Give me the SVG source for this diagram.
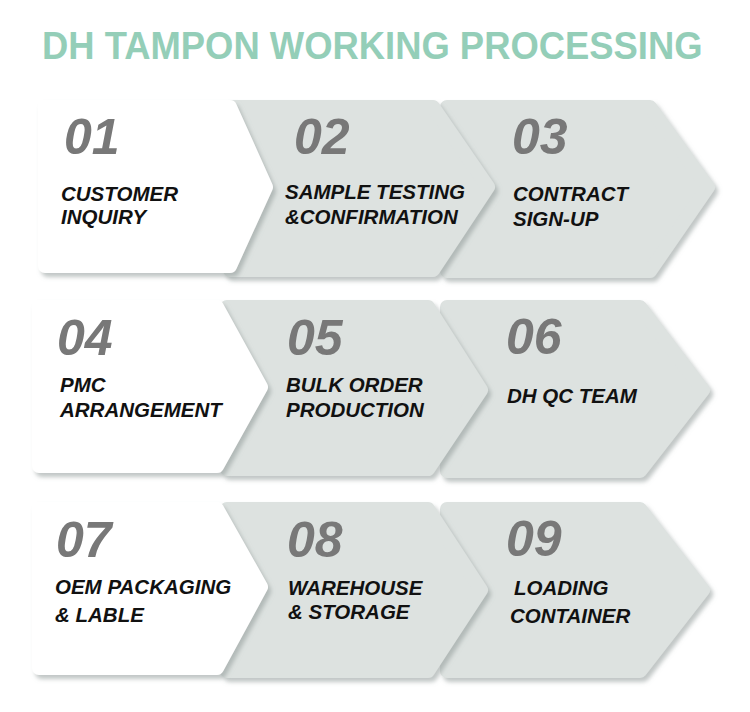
<svg xmlns="http://www.w3.org/2000/svg" width="750" height="712" viewBox="0 0 750 712">
<defs>
<filter id="sh" x="-10%" y="-10%" width="125%" height="130%">
<feDropShadow dx="3" dy="4" stdDeviation="2" flood-color="#8f9996" flood-opacity="0.55"/>
</filter>
</defs>
<style>
.title{font-family:"Liberation Sans",Arial,sans-serif;font-weight:bold;font-size:38px;fill:#94ceb8}
.w{fill:#ffffff;stroke:#ffffff;stroke-width:14;stroke-linejoin:round;filter:url(#sh)}
.g{fill:#dde2e0;stroke:#dde2e0;stroke-width:14;stroke-linejoin:round;filter:url(#sh)}
.num{font-family:"Liberation Sans",Arial,sans-serif;font-weight:bold;font-style:italic;font-size:50px;fill:#787878}
.lbl{font-family:"Liberation Sans",Arial,sans-serif;font-weight:bold;font-style:italic;font-size:20.5px;fill:#111111}
</style>
<rect width="750" height="712" fill="#ffffff"/>
<text class="title" transform="translate(42,59) scale(0.958,1)" x="0" y="0">DH TAMPON WORKING PROCESSING</text>

<g id="step03">
<path class="g" d="M447,107 H650 L708,187 L650,271 H447 Z"/>
<text class="num" x="512" y="154">03</text>
<text class="lbl" x="513" y="201">CONTRACT</text>
<text class="lbl" x="513" y="226">SIGN-UP</text>
</g>
<g id="step02">
<path class="g" d="M230,107 H433 L488,187 L433,270 H230 Z"/>
<text class="num" x="294" y="154">02</text>
<text class="lbl" x="285" y="199">SAMPLE TESTING</text>
<text class="lbl" x="285" y="224">&amp;CONFIRMATION</text>
</g>
<g id="step01">
<path class="w" d="M45,107 H230 L266,187 L230,266 H45 Z"/>
<text class="num" x="64" y="154">01</text>
<text class="lbl" x="61" y="201">CUSTOMER</text>
<text class="lbl" x="61" y="224">INQUIRY</text>
</g>

<g id="step06">
<path class="g" d="M447,307 H640 L703,390 L640,471 H447 Z"/>
<text class="num" x="506" y="354">06</text>
<text class="lbl" x="507" y="403">DH QC TEAM</text>
</g>
<g id="step05">
<path class="g" d="M227,307 H428 L481,390 L428,469 H227 Z"/>
<text class="num" x="287" y="355">05</text>
<text class="lbl" x="286" y="392">BULK ORDER</text>
<text class="lbl" x="286" y="417">PRODUCTION</text>
</g>
<g id="step04">
<path class="w" d="M39,307 H217 L261,387 L217,466 H39 Z"/>
<text class="num" x="57" y="355">04</text>
<text class="lbl" x="60" y="392">PMC</text>
<text class="lbl" x="60" y="417">ARRANGEMENT</text>
</g>

<g id="step09">
<path class="g" d="M447,509 H640 L703,590 L640,671 H447 Z"/>
<text class="num" x="506" y="556">09</text>
<text class="lbl" x="514" y="595">LOADING</text>
<text class="lbl" x="510" y="623">CONTAINER</text>
</g>
<g id="step08">
<path class="g" d="M227,509 H428 L481,590 L428,671 H227 Z"/>
<text class="num" x="287" y="557">08</text>
<text class="lbl" x="288" y="595">WAREHOUSE</text>
<text class="lbl" x="288" y="619">&amp; STORAGE</text>
</g>
<g id="step07">
<path class="w" d="M39,509 H217 L261,587 L217,668 H39 Z"/>
<text class="num" x="56" y="557">07</text>
<text class="lbl" x="55" y="594">OEM PACKAGING</text>
<text class="lbl" x="55" y="622">&amp; LABLE</text>
</g>
<g id="connectors"></g>
</svg>
